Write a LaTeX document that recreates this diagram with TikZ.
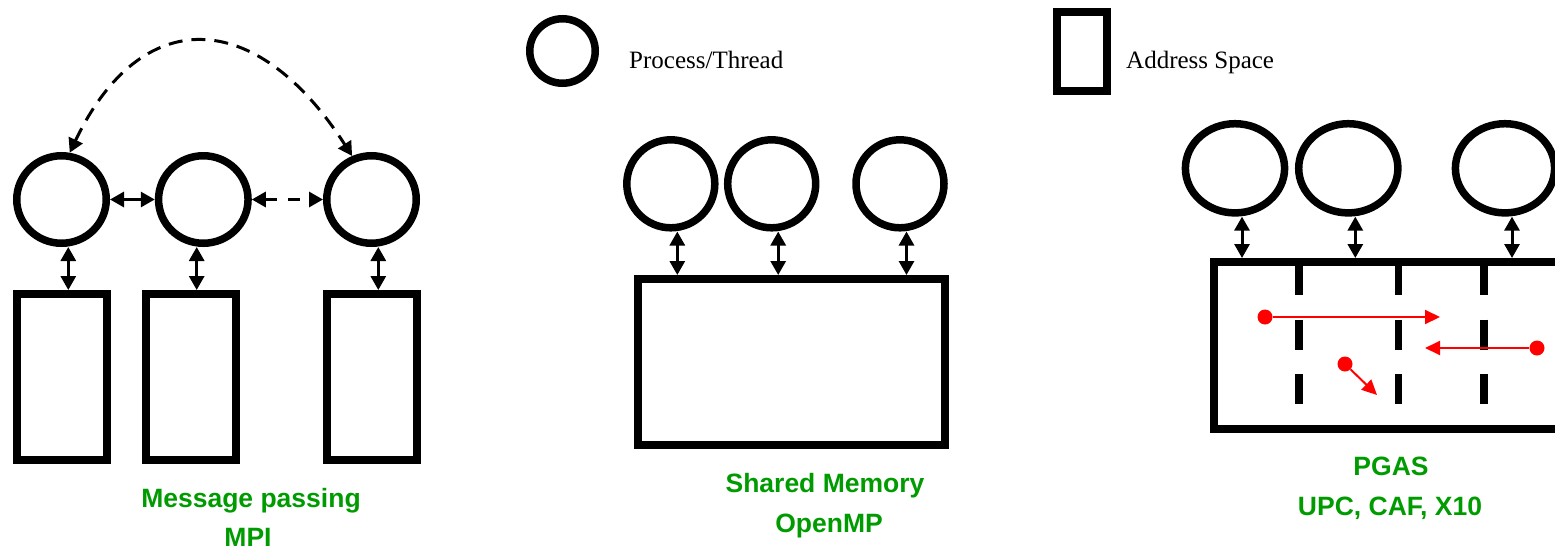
\documentclass[tikz,border=0pt]{standalone}
\usepackage{fontspec}
\setmainfont{Liberation Serif}
\newfontfamily\labelsans{Liberation Sans}
\usetikzlibrary{arrows.meta,shapes.geometric,calc}
\definecolor{labelgreen}{RGB}{0,155,0}

\begin{document}
\begin{tikzpicture}[x=1pt,y=-1pt,
  proc/.style={draw, ellipse, line width=7.5pt, inner sep=0pt},
  space/.style={draw, rectangle, line width=8pt, inner sep=0pt},
  link/.style={line width=3pt, {Triangle[length=14pt,width=15pt]}-{Triangle[length=14pt,width=15pt]}},
  dashlink/.style={link, dash pattern=on 12pt off 11pt},
  arclink/.style={link, dash pattern=on 14pt off 9pt},
  dot/.style={circle, fill=red, minimum size=15pt, inner sep=0pt},
  jump/.style={red, line width=2pt, -{Triangle[length=15pt,width=14pt]}},
  divider/.style={line width=7.5pt, dash pattern=on 30pt off 24.5pt},
  caption/.style={text=labelgreen, font=\labelsans\bfseries\fontsize{26.5}{30}\selectfont, inner sep=0pt, anchor=base},
  legendtext/.style={font=\fontsize{25}{30}\selectfont, inner sep=0pt, anchor=base west}
]
\path[use as bounding box, clip] (0,0) rectangle (1555,552);

% ---------------- legend ----------------
\node[proc, minimum width=65.5pt, minimum height=64.5pt] (lp) at (562.5,51) {};
\node[legendtext] (lpt) at (629,68) {Process/Thread};
\node[space, minimum width=50pt, minimum height=79pt] (ls) at (1082,51.5) {};
\node[legendtext] (lst) at (1126,68) {Address Space};

% ---------------- message passing ----------------
\node[proc, minimum width=89.5pt, minimum height=87.5pt] (m1) at (61.5,199.5) {};
\node[proc, minimum width=89.5pt, minimum height=87.5pt] (m2) at (203.3,199.5) {};
\node[proc, minimum width=89.5pt, minimum height=87.5pt] (m3) at (371.5,199.5) {};
\node[space, minimum width=90pt, minimum height=166pt] (ma) at (62,377) {};
\node[space, minimum width=90pt, minimum height=166pt] (mb) at (191,377) {};
\node[space, minimum width=90pt, minimum height=166pt] (mc) at (371.5,377) {};

\draw[link] (m1.east) -- (m2.west);
\draw[dashlink] (m2.east) -- (m3.west);
\draw[arclink] (m1.80) .. controls (140,5) and (255,5) .. (m3.114);
\draw[link] ([xshift=6.8]m1.south) -- ([xshift=6.8]m1.south |- ma.north);
\draw[link] ([xshift=-6.6]m2.south) -- ([xshift=-6.6]m2.south |- mb.north);
\draw[link] ([xshift=6.8]m3.south) -- ([xshift=6.8]m3.south |- mc.north);

\node[caption] (mpa) at (251,507) {Message passing};
\node[caption] (mpb) at (248,546) {MPI};

% ---------------- shared memory ----------------
\node[proc, minimum width=88pt, minimum height=88pt] (s1) at (670.8,183.8) {};
\node[proc, minimum width=88pt, minimum height=88pt] (s2) at (771.7,183.8) {};
\node[proc, minimum width=88pt, minimum height=88pt] (s3) at (900,183.8) {};
\node[space, minimum width=307pt, minimum height=166pt] (sm) at (791.5,362) {};

\draw[link] ([xshift=6.5]s1.south) -- ([xshift=6.5]s1.south |- sm.north);
\draw[link] ([xshift=6.5]s2.south) -- ([xshift=6.5]s2.south |- sm.north);
\draw[link] ([xshift=6.5]s3.south) -- ([xshift=6.5]s3.south |- sm.north);

\node[caption] (sma) at (825,492) {Shared Memory};
\node[caption] (smb) at (829,532) {OpenMP};

% ---------------- PGAS ----------------
\node[proc, minimum width=99.2pt, minimum height=89.2pt] (p1) at (1235,168.3) {};
\node[proc, minimum width=99.2pt, minimum height=89.2pt] (p2) at (1348.3,168.3) {};
\node[proc, minimum width=99.2pt, minimum height=89.2pt] (p3) at (1505,168.3) {};
\node[space, minimum width=400pt, minimum height=166.5pt, anchor=north west] (pg) at (1209.5,258) {};

\draw[link] ([xshift=7]p1.south) -- ([xshift=7]p1.south |- pg.north);
\draw[link] ([xshift=7]p2.south) -- ([xshift=7]p2.south |- pg.north);
\draw[link] ([xshift=7]p3.south) -- ([xshift=7]p3.south |- pg.north);

% partition boundaries inside the global space
\foreach \x in {1298.8,1398.3,1483.8}
  \draw[divider] (\x,265) -- (\x,406);

% remote accesses
\node[dot] (d1) at (1265,317) {};
\coordinate (t1) at (1440,317);
\node[dot] (d2) at (1537,348) {};
\coordinate (t2) at (1425,348);
\node[dot] (d3) at (1345,364) {};
\coordinate (t3) at (1377,395);
\draw[jump] (d1) -- (t1);
\draw[jump] (d2) -- (t2);
\draw[jump] (d3) -- (t3);

\node[caption] (pga) at (1391,475) {PGAS};
\node[caption] (pgb) at (1390,515) {UPC, CAF, X10};
\end{tikzpicture}
\end{document}
